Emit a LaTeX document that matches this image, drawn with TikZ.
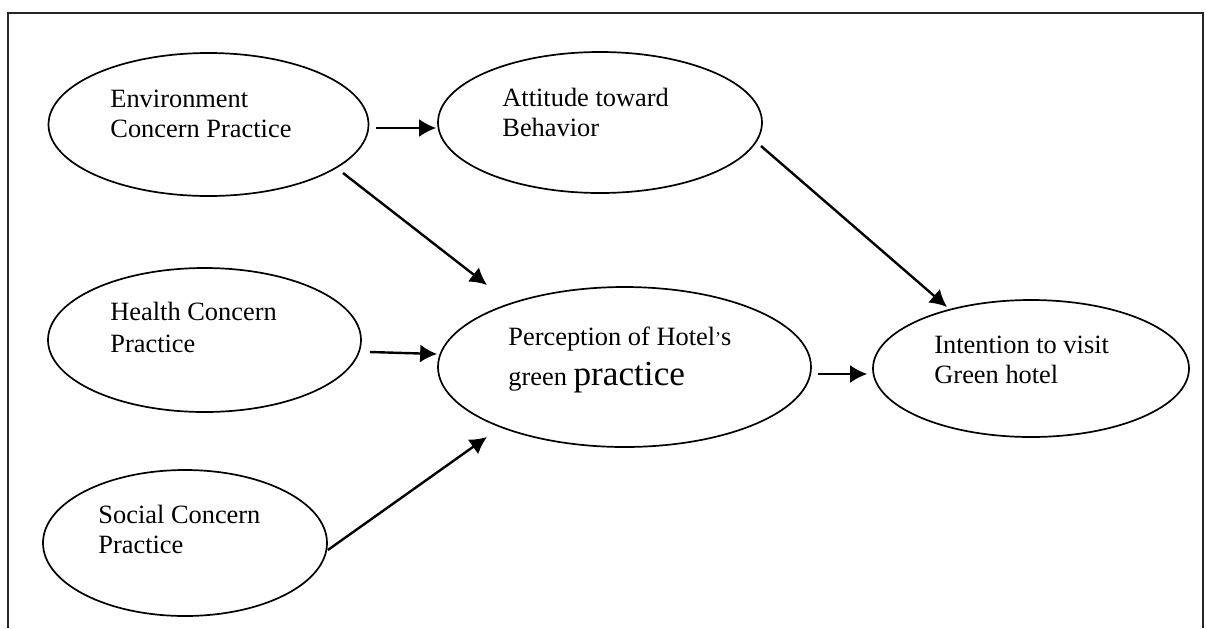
\documentclass[tikz,border=0pt]{standalone}
\usepackage{fontspec}
\setmainfont{Liberation Serif}
\usepackage{tikz}
\usetikzlibrary{calc,positioning,arrows.meta,shapes.geometric}
\tikzset{
    bubble/.style={ellipse, draw=black, line width=0.85pt, inner sep=0pt},
    label_text/.style={anchor=base west, inner sep=0pt, align=left, font=\fontsize{13.2}{15}\selectfont},
    line/.style={-{Latex[length=8.5pt,width=9pt]}, line width=1.2pt},
    frame/.style={draw=black!85, line width=0.9pt},
}
\begin{document}
\begin{tikzpicture}
        [x=0.5pt, y=-0.5pt]

        \useasboundingbox (0,0) rectangle (1206,628);

        % Open frame
        \draw[frame] (8,628) -- (8,13) -- (1203,13) -- (1203,628);

        % Ellipses
        \node[bubble, minimum width=160pt, minimum height=71.5pt] (env) at (208.5,124.5) {};
        \node[bubble, minimum width=162pt, minimum height=70.5pt] (att) at (600,122.5) {};
        \node[bubble, minimum width=156.5pt, minimum height=72pt] (health) at (204.5,340) {};
        \node[bubble, minimum width=142pt, minimum height=73pt] (social) at (185,543) {};
        \node[bubble, minimum width=186.5pt, minimum height=80pt] (perc) at (624.5,367) {};
        \node[bubble, minimum width=158pt, minimum height=68.5pt] (intent) at (1031,368.5) {};

        % Texts (anchored on the last line)
        \node[label_text] (env_txt) at (110,137) {Environment\\Concern Practice};
        \node[label_text] (att_txt) at (502,136) {Attitude toward\\Behavior};
        \node[label_text] (health_txt) at (110,352) {Health Concern\\[1pt]Practice};
        \node[label_text] (social_txt) at (98,553) {Social Concern\\Practice};
        \node[label_text] (perc_txt) at (508,385) {Perception of Hotel{\fontsize{9}{9}\selectfont\raisebox{0.5pt}{’}}s\\[5pt]green {\fontsize{17.6}{17.6}\selectfont practice}};
        \node[label_text] (intent_txt) at (934,383) {Intention to visit\\Green hotel};

        % Arrows
        \draw[line] ($(env.east)+(6.5,3.5)$) -- ($(att.west)+(-1,5.5)$);
        \draw[line] ($(env)+(134.5,48.5)$) -- ($(perc)+(-137.5,-82)$);
        \draw[line] ($(health.east)+(8,12)$) -- ($(perc.west)+(0,-13)$);
        \draw[line] ($(social.east)+(0,7)$) -- ($(perc)+(-137.5,70)$);
        \draw[line] ($(att)+(161,23.5)$) -- ($(intent)+(-84,-61.5)$);
        \draw[line] ($(perc.east)+(6,7)$) -- ($(intent.west)+(-5,5.5)$);
    \end{tikzpicture}
\end{document}
